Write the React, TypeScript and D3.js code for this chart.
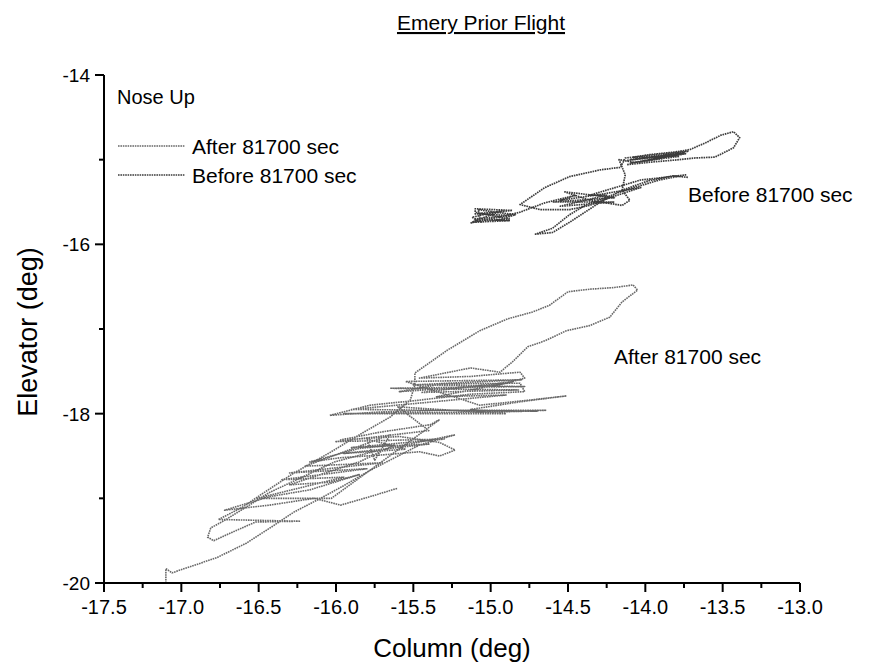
import React from 'react';
import * as d3 from 'd3';

const xMajorTicks = [-17.5, -17.0, -16.5, -16.0, -15.5, -15.0, -14.5, -14.0, -13.5, -13.0];
const xMinorTicks = [-17.25, -16.75, -16.25, -15.75, -15.25, -14.75, -14.25, -13.75, -13.25];
const yMajorTicks = [-14, -16, -18, -20];
const yMinorTicks = [-15, -17, -19];

const seriesNames = ['After 81700 sec', 'Before 81700 sec'];

const afterPath: [number, number][] = [
  [-17.10, -20.00], [-17.10, -19.83], [-17.06, -19.88], [-16.98, -19.83], [-16.77, -19.70],
  [-16.58, -19.53], [-16.41, -19.33], [-16.27, -19.16], [-16.10, -19.00], [-15.94, -18.84],
  [-15.78, -18.67], [-15.62, -18.52], [-15.46, -18.37], [-15.23, -18.25], [-15.39, -18.31],
  [-15.72, -18.43], [-16.01, -18.57], [-16.23, -18.76], [-16.43, -18.93], [-16.56, -19.08],
  [-16.72, -19.26], [-16.81, -19.35], [-16.83, -19.46], [-16.79, -19.50], [-16.67, -19.40],
  [-16.52, -19.28], [-16.23, -19.27], [-16.49, -19.26], [-16.76, -19.25], [-16.60, -19.10],
  [-16.48, -18.95], [-16.28, -18.71], [-16.04, -18.46], [-15.85, -18.25], [-15.65, -18.04],
  [-15.52, -17.84], [-15.49, -17.66], [-15.49, -17.52], [-15.28, -17.25], [-15.07, -17.02],
  [-14.89, -16.88], [-14.73, -16.80], [-14.62, -16.72], [-14.50, -16.56], [-14.36, -16.53],
  [-14.20, -16.51], [-14.08, -16.48], [-14.05, -16.54], [-14.15, -16.68], [-14.23, -16.86],
  [-14.36, -16.96], [-14.51, -17.02], [-14.65, -17.14], [-14.76, -17.21], [-14.86, -17.39],
  [-14.94, -17.51], [-15.13, -17.46], [-15.46, -17.58], [-15.13, -17.56], [-14.81, -17.51],
  [-14.78, -17.58], [-14.94, -17.66], [-15.26, -17.70], [-15.59, -17.74], [-15.32, -17.65],
  [-14.81, -17.64], [-14.78, -17.74], [-15.13, -17.77], [-15.46, -17.84], [-15.78, -17.90],
  [-16.04, -18.02], [-15.72, -17.98], [-15.33, -17.96], [-14.94, -17.96], [-14.64, -17.96],
  [-14.94, -17.98], [-15.13, -17.95], [-14.81, -17.86], [-14.51, -17.79], [-14.75, -17.84],
  [-15.07, -17.90],
  [-15.55, -17.62], [-14.80, -17.60], [-15.50, -17.66], [-14.78, -17.68], [-15.65, -17.70],
  [-14.82, -17.72], [-15.45, -17.75], [-14.85, -17.62], [-15.35, -17.80], [-14.90, -17.78],
  [-15.90, -17.95], [-14.70, -17.97], [-15.95, -18.00], [-14.90, -18.00], [-15.60, -17.92],
  [-15.40, -18.20], [-16.00, -18.33], [-15.30, -18.30], [-15.90, -18.40], [-15.40, -18.36],
  [-15.95, -18.47], [-15.55, -18.42], [-15.80, -18.30], [-15.75, -18.55], [-15.65, -18.25],
  [-16.20, -18.62], [-15.70, -18.58], [-16.30, -18.70], [-15.80, -18.65], [-16.35, -18.78],
  [-15.95, -18.75], [-16.51, -19.00], [-16.03, -19.00],
  [-15.33, -18.07], [-15.39, -18.13], [-15.72, -18.22], [-15.97, -18.31],
  [-15.59, -18.27], [-15.33, -18.34], [-15.23, -18.43], [-15.33, -18.50], [-15.46, -18.45],
  [-15.72, -18.49], [-15.97, -18.52], [-16.17, -18.57], [-15.85, -18.41], [-15.62, -18.37],
  [-15.85, -18.57], [-16.10, -18.72], [-16.30, -18.84], [-16.04, -18.81], [-15.85, -18.72],
  [-16.17, -18.90], [-16.43, -18.98], [-16.72, -19.14], [-16.43, -19.08], [-16.14, -19.00],
  [-15.97, -19.08], [-15.78, -18.98], [-15.60, -18.88],
];

const beforePath: [number, number][] = [
  [-15.13, -15.75], [-15.07, -15.69], [-15.08, -15.59], [-14.97, -15.62], [-14.84, -15.65],
  [-14.94, -15.71], [-15.07, -15.74], [-15.12, -15.68], [-14.92, -15.60], [-15.10, -15.72],
  [-14.88, -15.70], [-15.10, -15.62],
  [-15.10, -15.58], [-14.86, -15.60], [-15.10, -15.64], [-14.86, -15.66], [-15.10, -15.70],
  [-14.88, -15.72], [-15.12, -15.74],
  [-14.90, -15.66], [-14.81, -15.62], [-14.65, -15.51],
  [-14.45, -15.42], [-14.55, -15.48], [-14.29, -15.41], [-14.13, -15.36], [-14.03, -15.33],
  [-14.23, -15.45], [-14.36, -15.54], [-14.49, -15.59], [-14.68, -15.59], [-14.81, -15.53],
  [-14.65, -15.33], [-14.49, -15.20], [-14.29, -15.12], [-14.16, -15.09], [-14.13, -14.98],
  [-13.72, -14.90], [-14.12, -15.01], [-13.74, -14.93], [-14.10, -15.04], [-13.78, -14.96],
  [-14.08, -14.97],
  [-13.97, -14.94], [-13.81, -14.91], [-13.71, -14.88], [-13.61, -14.80], [-13.51, -14.71],
  [-13.43, -14.67], [-13.39, -14.74], [-13.43, -14.86], [-13.55, -14.97], [-13.68, -14.98],
  [-13.78, -15.00], [-13.97, -15.03], [-14.12, -15.06], [-13.85, -14.95], [-14.10, -15.00],
  [-13.75, -14.92], [-14.05, -15.04], [-14.17, -15.00], [-14.13, -15.18], [-14.15, -15.36],
  [-14.10, -15.48], [-14.15, -15.54], [-14.36, -15.48], [-14.52, -15.38],
  [-14.20, -15.45], [-14.60, -15.50], [-14.20, -15.50], [-14.55, -15.55], [-14.25, -15.42],
  [-14.36, -15.42],
  [-14.03, -15.24], [-13.74, -15.18], [-13.91, -15.24], [-14.16, -15.38], [-14.39, -15.54],
  [-14.49, -15.65], [-14.60, -15.81], [-14.71, -15.88], [-14.60, -15.86], [-14.49, -15.74],
  [-14.39, -15.62], [-14.29, -15.50], [-14.15, -15.36], [-13.98, -15.25], [-13.82, -15.19],
  [-13.72, -15.21],
];

const FONT = '"Liberation Sans", Arial, Helvetica, sans-serif';
const AFTER_COLOR = '#686868';
const BEFORE_COLOR = '#3c3c3c';

export default function App() {
  const W = 874;
  const H = 665;
  const x = d3.scaleLinear().domain([-17.5, -13]).range([104, 800]);
  const y = d3.scaleLinear().domain([-20, -14]).range([583, 75]);
  const line = d3.line<[number, number]>().x((d) => x(d[0])).y((d) => y(d[1]));
  const x0 = x(-17.5);
  const y0 = y(-20);

  return (
    <svg width={W} height={H} style={{ position: 'absolute', left: 0, top: 0, background: '#fff' }} fontFamily={FONT}>
      <rect x={0} y={0} width={W} height={H} fill="#fff" />
      <text x={481} y={30} textAnchor="middle" fontSize={21} fill="#000" textDecoration="underline">Emery Prior Flight</text>

      <path d={line(afterPath) || ''} fill="none" stroke={AFTER_COLOR} strokeWidth={1.6} strokeDasharray="1.6 0.8" strokeLinejoin="round" />
      <path d={line(beforePath) || ''} fill="none" stroke={BEFORE_COLOR} strokeWidth={1.7} strokeDasharray="1.6 0.8" strokeLinejoin="round" />

      <line x1={x0} x2={x(-13)} y1={y0} y2={y0} stroke="#000" strokeWidth={2} />
      <line x1={x0} x2={x0} y1={y(-14)} y2={y0} stroke="#000" strokeWidth={2} />
      {xMajorTicks.map((t) => (
        <g key={'xm' + t}>
          <line x1={x(t)} x2={x(t)} y1={y0} y2={y0 + 9} stroke="#000" strokeWidth={2} />
          <text x={x(t)} y={y0 + 31} textAnchor="middle" fontSize={20} fill="#000">{t.toFixed(1)}</text>
        </g>
      ))}
      {xMinorTicks.map((t) => (
        <line key={'xn' + t} x1={x(t)} x2={x(t)} y1={y0} y2={y0 + 5} stroke="#000" strokeWidth={2} />
      ))}
      {yMajorTicks.map((t) => (
        <g key={'ym' + t}>
          <line x1={x0 - 9} x2={x0} y1={y(t)} y2={y(t)} stroke="#000" strokeWidth={2} />
          <text x={x0 - 14} y={y(t) + 7} textAnchor="end" fontSize={19} fill="#000">{String(t)}</text>
        </g>
      ))}
      {yMinorTicks.map((t) => (
        <line key={'yn' + t} x1={x0 - 5} x2={x0} y1={y(t)} y2={y(t)} stroke="#000" strokeWidth={2} />
      ))}

      <text x={452} y={657} textAnchor="middle" fontSize={26} fill="#000">Column (deg)</text>
      <text transform={`translate(37,332) rotate(-90)`} textAnchor="middle" fontSize={27} fill="#000">Elevator (deg)</text>

      <text x={117} y={104} fontSize={20} fill="#000">Nose Up</text>
      <line x1={118} x2={185} y1={146} y2={146} stroke={AFTER_COLOR} strokeWidth={1.6} strokeDasharray="1.6 0.8" />
      <text x={192} y={154} fontSize={21} fill="#000">{seriesNames[0]}</text>
      <line x1={118} x2={185} y1={175} y2={175} stroke={BEFORE_COLOR} strokeWidth={1.7} strokeDasharray="1.6 0.8" />
      <text x={192} y={183} fontSize={21} fill="#000">{seriesNames[1]}</text>

      <text x={688} y={202} fontSize={21} fill="#000">{seriesNames[1]}</text>
      <text x={614} y={364} fontSize={21} fill="#000">{seriesNames[0]}</text>
    </svg>
  );
}
